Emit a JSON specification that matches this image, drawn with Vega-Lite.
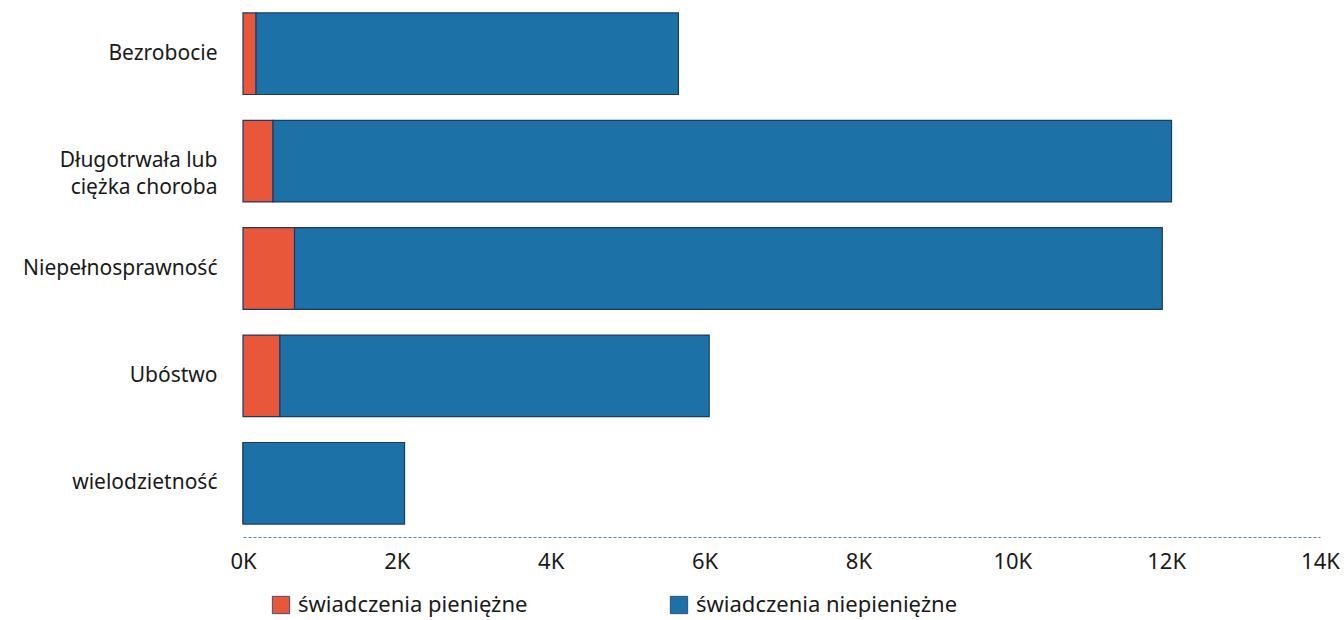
{
  "$schema": "https://vega.github.io/schema/vega-lite/v6.json",
  "autosize": "none",
  "width": 1077,
  "height": 537,
  "padding": {"left": 243, "top": 0, "right": 24, "bottom": 83},
  "background": "white",
  "data": {
    "values": [
      {"kategoria": "Bezrobocie", "typ": "świadczenia pieniężne", "wartosc": 170},
      {"kategoria": "Bezrobocie", "typ": "świadczenia niepieniężne", "wartosc": 5490},
      {"kategoria": "Długotrwała lub ciężka choroba", "typ": "świadczenia pieniężne", "wartosc": 390},
      {"kategoria": "Długotrwała lub ciężka choroba", "typ": "świadczenia niepieniężne", "wartosc": 11680},
      {"kategoria": "Niepełnosprawność", "typ": "świadczenia pieniężne", "wartosc": 670},
      {"kategoria": "Niepełnosprawność", "typ": "świadczenia niepieniężne", "wartosc": 11280},
      {"kategoria": "Ubóstwo", "typ": "świadczenia pieniężne", "wartosc": 480},
      {"kategoria": "Ubóstwo", "typ": "świadczenia niepieniężne", "wartosc": 5580},
      {"kategoria": "wielodzietność", "typ": "świadczenia pieniężne", "wartosc": 0},
      {"kategoria": "wielodzietność", "typ": "świadczenia niepieniężne", "wartosc": 2100}
    ]
  },
  "mark": {"type": "bar", "stroke": "#1b3a6b", "strokeWidth": 1.2},
  "encoding": {
    "y": {
      "field": "kategoria",
      "type": "nominal",
      "sort": null,
      "scale": {"paddingInner": 0.24, "paddingOuter": 0.12},
      "axis": {
        "title": null,
        "domain": false,
        "ticks": false,
        "labelFont": "Noto Sans",
        "labelFontSize": 21,
        "labelColor": "#1a1a1a",
        "labelPadding": 26,
        "labelLineHeight": 27,
        "labelLimit": 240,
        "labelExpr": "datum.value == 'Długotrwała lub ciężka choroba' ? ['Długotrwała lub', 'ciężka choroba'] : datum.value"
      }
    },
    "x": {
      "field": "wartosc",
      "type": "quantitative",
      "stack": "zero",
      "scale": {"domain": [0, 14000], "nice": false},
      "axis": {
        "title": null,
        "values": [0, 2000, 4000, 6000, 8000, 10000, 12000, 14000],
        "labelExpr": "(datum.value / 1000) + 'K'",
        "grid": false,
        "ticks": false,
        "domainColor": "#5b7fa8",
        "domainDash": [3, 2],
        "domainWidth": 1,
        "labelFont": "Noto Sans",
        "labelFontSize": 22,
        "labelColor": "#1a1a1a",
        "labelPadding": 14,
        "labelFlush": false
      }
    },
    "color": {
      "field": "typ",
      "type": "nominal",
      "scale": {
        "domain": ["świadczenia pieniężne", "świadczenia niepieniężne"],
        "range": ["#e8573a", "#1c71a6"]
      },
      "legend": {
        "title": null,
        "orient": "none",
        "direction": "horizontal",
        "legendX": 27,
        "legendY": 594,
        "symbolType": "square",
        "symbolSize": 300,
        "symbolStrokeColor": "#1b3a6b",
        "symbolStrokeWidth": 0.8,
        "labelFont": "Noto Sans",
        "labelFontSize": 22,
        "labelColor": "#1a1a1a",
        "labelOffset": 6,
        "columnPadding": 140,
        "labelLimit": 400
      }
    },
    "order": {"field": "typ", "sort": "descending"}
  },
  "config": {"view": {"stroke": null}}
}
